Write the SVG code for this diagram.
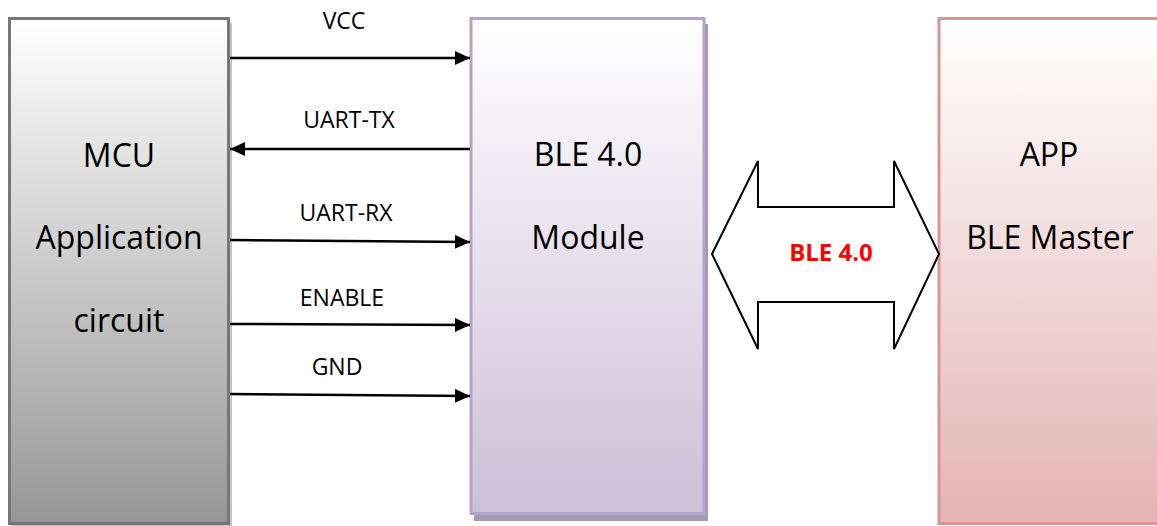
<svg xmlns="http://www.w3.org/2000/svg" width="1157" height="526" viewBox="0 0 1157 526">
<style>
.big{font-family:"Open Sans","Noto Sans",sans-serif;font-size:32px;fill:#000;text-anchor:middle}
.lbl{font-family:"Open Sans","Noto Sans",sans-serif;font-size:23px;fill:#000;text-anchor:middle}
.red{font-family:"Open Sans","Noto Sans",sans-serif;font-size:24px;font-weight:bold;fill:#ff0000;text-anchor:middle}
.wire{stroke:#000;stroke-width:2.5;fill:none;marker-end:url(#ah)}
</style>
<defs>
<linearGradient id="gMcu" x1="0" y1="0" x2="0" y2="1">
<stop offset="0" stop-color="#ffffff"/><stop offset="1" stop-color="#969696"/>
</linearGradient>
<linearGradient id="gBle" x1="0" y1="0" x2="0" y2="1">
<stop offset="0" stop-color="#ffffff"/><stop offset="1" stop-color="#ccbfd9"/>
</linearGradient>
<linearGradient id="gApp" x1="0" y1="0" x2="0" y2="1">
<stop offset="0" stop-color="#ffffff"/><stop offset="1" stop-color="#e4b3b3"/>
</linearGradient>
<marker id="ah" markerUnits="userSpaceOnUse" markerWidth="16" markerHeight="14" refX="15" refY="7" orient="auto">
<path d="M0,0 L15,7 L0,14 z" fill="#000"/>
</marker>
</defs>
<rect width="1157" height="526" fill="#fff"/>
<g id="mcu">
<rect x="11" y="23" width="221" height="503" fill="#c4c4c4"/>
<rect x="9.5" y="18.5" width="219" height="505" fill="url(#gMcu)" stroke="#777" stroke-width="3"/>
<text class="big" x="119" y="167">MCU</text>
<text class="big" x="119" y="249">Application</text>
<text class="big" x="119" y="332">circuit</text>
</g>
<g id="ble">
<rect x="474" y="24" width="234" height="497" fill="#a39bb0"/>
<rect x="471" y="18.5" width="233" height="495" fill="url(#gBle)" stroke="#b3a3cb" stroke-width="3"/>
<text class="big" x="588" y="166">BLE 4.0</text>
<text class="big" x="588" y="249">Module</text>
</g>
<g id="app">
<rect x="939" y="18.5" width="230" height="505" fill="url(#gApp)" stroke="#d99594" stroke-width="3"/>
<text class="big" x="1049" y="166">APP</text>
<text class="big" x="1050" y="249">BLE Master</text>
</g>
<g id="link">
<polygon points="712,254 758,161 758,207 894,207 894,161 939,254 894,349 894,302 758,302 758,349" fill="#fff" stroke="#000" stroke-width="2"/>
<text class="red" x="831" y="261">BLE 4.0</text>
</g>
<g id="connectors">
<line class="wire" x1="230" y1="58" x2="470" y2="58"/>
<line class="wire" x1="470" y1="149" x2="230" y2="149"/>
<line class="wire" x1="230" y1="240" x2="470" y2="242"/>
<line class="wire" x1="230" y1="324" x2="470" y2="325"/>
<line class="wire" x1="230" y1="394" x2="470" y2="396"/>
<text class="lbl" x="344" y="29">VCC</text>
<text class="lbl" x="349" y="128">UART-TX</text>
<text class="lbl" x="346" y="221">UART-RX</text>
<text class="lbl" x="342" y="306">ENABLE</text>
<text class="lbl" x="337" y="375">GND</text>
</g>
</svg>
